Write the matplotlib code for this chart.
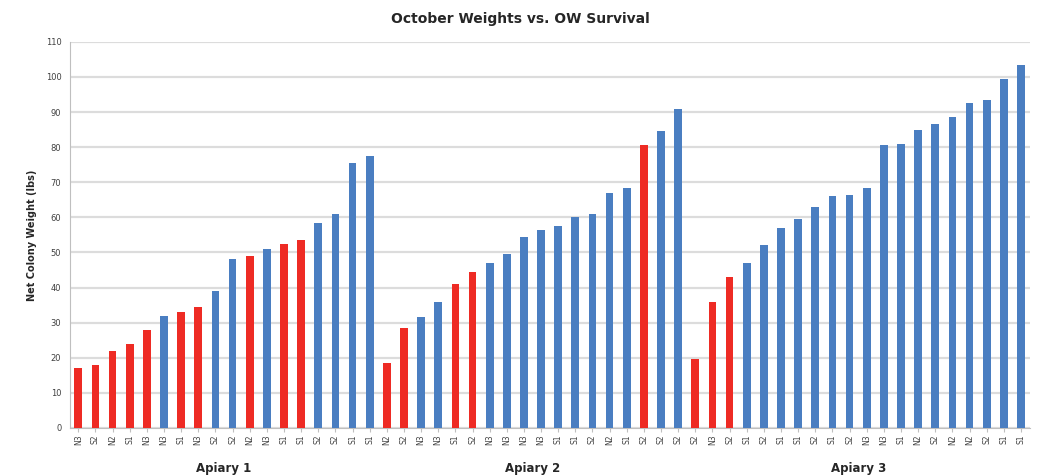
import matplotlib
matplotlib.use("Agg")
from matplotlib import pyplot as plt
import numpy as np

# colony weights per apiary (lbs), sorted as in the chart
apiary1 = [17, 18, 22, 24, 28, 32, 33, 34.5, 39, 48, 49, 51, 52.5, 53.5, 58.5, 61, 75.5, 77.5]
apiary2 = [18.5, 28.5, 31.5, 36, 41, 44.5, 47, 49.5, 54.5, 56.5, 57.5, 60, 61, 67, 68.5, 80.5, 84.5, 91]
apiary3 = [19.5, 36, 43, 47, 52, 57, 59.5, 63, 66, 66.5, 68.5, 80.5, 81, 85, 86.5, 88.5,
           92.5, 93.5, 99.5, 103.5]

# survived overwinter? (1 = survived, blue; 0 = died, red)
surv1 = [0, 0, 0, 0, 0, 1, 0, 0, 1, 1, 0, 1, 0, 0, 1, 1, 1, 1]
surv2 = [0, 0, 1, 1, 0, 0, 1, 1, 1, 1, 1, 1, 1, 1, 1, 0, 1, 1]
surv3 = [0, 0, 0] + [1] * 17

labels1 = ["N3", "S2", "N2", "S1", "N3", "N3", "S1", "N3", "S2", "S2", "N2", "N3",
           "S1", "S1", "S2", "S2", "S1", "S1"]
labels2 = ["N2", "S2", "N3", "N3", "S1", "S2", "N3", "N3", "N3", "N3", "S1", "S1",
           "S2", "N2", "S1", "S2", "S2", "S2"]
labels3 = ["S2", "N3", "S2", "S1", "S2", "S1", "S1", "S2", "S1", "S2", "N3", "N3",
           "S1", "N2", "S2", "N2", "N2", "S2", "S1", "S1"]

groups = ["Apiary 1", "Apiary 2", "Apiary 3"]

red = "#EE2B24"
blue = "#4A7EC1"

values = apiary1 + apiary2 + apiary3
survived = surv1 + surv2 + surv3
labels = labels1 + labels2 + labels3
sizes = [len(apiary1), len(apiary2), len(apiary3)]

fig = plt.figure(figsize=(10.4, 4.76), dpi=100)
ax = fig.add_axes([0.067, 0.101, 0.923, 0.811])

x = np.arange(len(values))
colors = [blue if s else red for s in survived]
ax.bar(x, values, width=0.45, color=colors, zorder=3)

ax.set_xlim(-0.5, len(values) - 0.5)
ax.set_ylim(0, 110)
ax.set_yticks(np.arange(0, 111, 10))
ax.yaxis.grid(True, color="#DCDCDC", linewidth=1.6, zorder=0)
ax.tick_params(axis="y", length=0, labelsize=6, labelcolor="#404040", pad=6)

ax.set_xticks(x)
ax.set_xticklabels(labels, rotation=90, fontsize=5.5, color="#404040")
ax.tick_params(axis="x", length=3, color="#BFBFBF", pad=2)

for side in ["top", "right"]:
    ax.spines[side].set_visible(False)
ax.spines["left"].set_color("#BFBFBF")
ax.spines["bottom"].set_color("#BFBFBF")

# group labels under the category ticks
start = 0
for name, n in zip(groups, sizes):
    center = start + (n - 1) / 2
    ax.text(center, -0.105, name, transform=ax.get_xaxis_transform(),
            ha="center", va="center", fontsize=8.5, fontweight="bold", color="#262626")
    start += n

ax.set_ylabel("Net Colony Weight (lbs)", fontsize=7, fontweight="bold", color="#262626", labelpad=6)
fig.suptitle("October Weights vs. OW Survival", x=0.5, y=0.975, fontsize=10,
             fontweight="bold", color="#262626")

fig.savefig("out.png", dpi=100)
